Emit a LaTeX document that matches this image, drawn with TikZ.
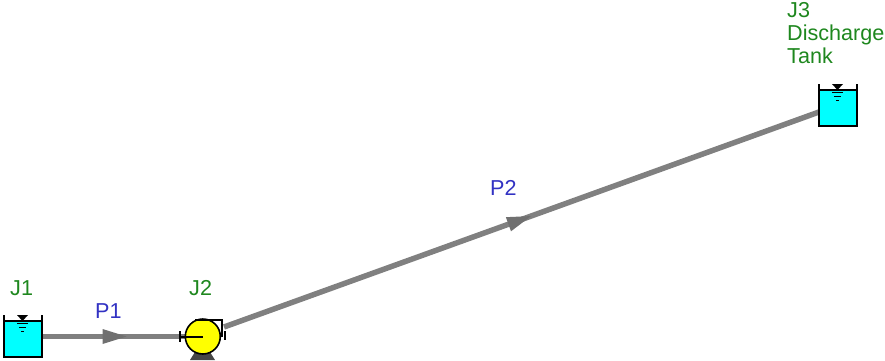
\documentclass[tikz,border=0pt]{standalone}
\usepackage{fontspec}
\setmainfont{Liberation Sans}
\usetikzlibrary{backgrounds,decorations.markings}
\definecolor{pipegray}{RGB}{128,128,128}
\definecolor{flowgray}{RGB}{112,112,112}
\definecolor{water}{RGB}{0,255,255}
\definecolor{pumpyellow}{RGB}{255,255,0}
\definecolor{basegray}{RGB}{70,70,70}
\definecolor{junctext}{RGB}{30,135,30}
\definecolor{pipetext}{RGB}{50,50,195}
\tikzset{
  tankbody/.style={draw=black,line width=1.6pt,fill=water,minimum width=38pt,minimum height=36pt,inner sep=0pt,outer sep=0pt},
  tankwall/.style={draw=black,line width=1.6pt},
  pumpbody/.style={circle,draw=black,line width=1.6pt,fill=pumpyellow,minimum size=35pt,inner sep=0pt,outer sep=0pt},
  pumppart/.style={draw=black,line width=2pt},
  pipeline/.style={draw=pipegray,line width=5.5pt},
  junclabel/.style={text=junctext,font=\fontsize{21.6pt}{23.2pt}\selectfont,inner sep=0pt,anchor=north west,align=left},
  pipelabel/.style={text=pipetext,font=\fontsize{21.6pt}{23.2pt}\selectfont,inner sep=0pt,anchor=north west},
  flowmark/.style n args={2}{postaction={decorate,decoration={markings,mark=at position #1 with {\fill[flowgray] (-#2pt,-7.5pt)--(0pt,0pt)--(-#2pt,7.5pt)--cycle;}}}}
}
\newcommand{\tanksymbol}[2]{%
  \begin{scope}[shift={(#1,#2)}]
    \draw[tankwall] (4,315)--(4,322);
    \draw[tankwall] (42,315)--(42,322);
    \fill[black] (17,315)--(28,315)--(22.5,321)--cycle;
    \draw[black,line width=1.5pt] (17,323.5)--(28,323.5);
    \draw[black,line width=1.5pt] (19,327.5)--(26,327.5);
    \draw[black,line width=1.5pt] (21,331.5)--(24,331.5);
  \end{scope}}
\begin{document}
\begin{tikzpicture}[x=1pt,y=-1pt]
\useasboundingbox (0,0) rectangle (885,360);
% tanks
\node[tankbody] (j1) at (23,339) {};
\tanksymbol{0}{0}
\node[tankbody] (j3) at (838,108) {};
\tanksymbol{815}{-231}
% pump
\fill[basegray] (195,352)--(210,352)--(215,360)--(190,360)--cycle;
\node[pumpbody] (j2) at (202.8,336.5) {};
\draw[pumppart] (180,336.5)--(203,336.5);
\draw[pumppart] (180,331)--(180,342);
\draw[pumppart] (195,319.5)--(222,319.5)--(222,337);
\draw[pumppart] (225,331)--(225,340);
\coordinate (pumpout) at (224,327);
\coordinate (j3in) at (819,112);
% labels
\node[junclabel] (lj1) at (10,280) {J1};
\node[junclabel] (lj2) at (189,280) {J2};
\node[junclabel] (lj3) at (787,2) {J3\\Discharge\\Tank};
\node[pipelabel] (lp1) at (95,303) {P1};
\node[pipelabel] (lp2) at (490,180) {P2};
% pipes
\begin{pgfonlayer}{background}
  \path[pipeline,flowmark={0.59}{24}] (j1.east |- j2.west) -- (j2.west);
  \path[pipeline,flowmark={0.516}{24}] (pumpout) -- (j3in);
\end{pgfonlayer}
\end{tikzpicture}
\end{document}
